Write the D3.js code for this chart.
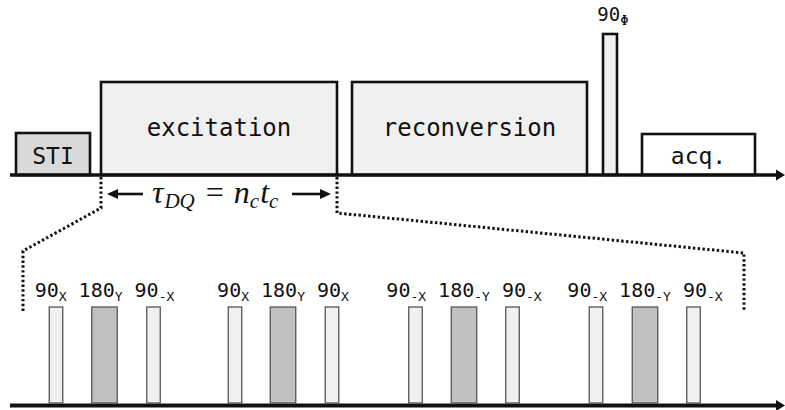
<!DOCTYPE html>
<html lang="en">
<head>
  <meta charset="UTF-8">
  <title>DQ pulse sequence</title>
  <script src="https://d3js.org/d3.v7.min.js"></script>
  <style>
    body { margin: 0; background: #fff; }
    svg { display: block; }
    .mono { font-family: "DejaVu Sans Mono", "Liberation Mono", monospace; fill: #111; }
    .math { font-family: "Liberation Serif", "DejaVu Serif", serif; font-style: italic; fill: #111; }
  </style>
</head>
<body>
  <svg width="785" height="410"></svg>

  <script>
  // top row: blocks of the sequence (start, end, amplitude in arbitrary time / power units)
  const blockLabels = ["STI", "excitation", "reconversion", "90", "acq."];
  const blockSub    = ["", "", "", "\u03A6", ""];
  const blockKind   = ["sti", "block", "block", "pulse", "acq"];
  const blockStart  = [16, 101, 352, 603, 642];
  const blockEnd    = [90, 337, 587, 617, 755];
  const blockAmp    = [42, 93, 93, 141, 41];

  // bottom row: one zoomed excitation period, 4 cycles of 90-180-90
  const pulseAngle  = [90, 180, 90, 90, 180, 90, 90, 180, 90, 90, 180, 90];
  const pulsePhase  = ["X", "Y", "-X", "X", "Y", "X", "-X", "-Y", "-X", "-X", "-Y", "-X"];
  const pulseCenter = [56, 104.5, 153.5, 235, 283, 332, 415.5, 464, 512.5, 596, 645, 693.5];
  const pulseLength = { 90: 13.5, 180: 25.5 };
  const pulseAmp = 96;
  const zoomWindow = [23, 744]; // where the excitation period is expanded to

  const svg = d3.select("svg");
  const x = d3.scaleLinear().domain([0, 785]).range([0, 785]);
  const yTop = d3.scaleLinear().domain([0, 141]).range([175, 34]);
  const yBot = d3.scaleLinear().domain([0, pulseAmp]).range([403, 307]);

  const fills = { sti: "#d9d9d9", block: "#f0f0f0", pulse: "#f0f0f0", acq: "#ffffff" };

  // ---- dotted zoom guides (drawn first so boxes sit on top)
  const guide = d3.line();
  const dotted = (pts) => svg.append("path")
    .attr("d", guide(pts))
    .attr("fill", "none")
    .attr("stroke", "#111")
    .attr("stroke-width", 3)
    .attr("stroke-dasharray", "2.4,2.4");

  dotted([[x(blockStart[1]), 177], [x(blockStart[1]), 208], [x(zoomWindow[0]), 251], [x(zoomWindow[0]), 312]]);
  dotted([[x(blockEnd[1]), 177], [x(blockEnd[1]), 213], [x(zoomWindow[1]), 253], [x(zoomWindow[1]), 312]]);

  // ---- top blocks
  const gTop = svg.append("g");
  blockLabels.forEach((lab, i) => {
    gTop.append("rect")
      .attr("x", x(blockStart[i]))
      .attr("y", yTop(blockAmp[i]))
      .attr("width", x(blockEnd[i]) - x(blockStart[i]))
      .attr("height", yTop(0) - yTop(blockAmp[i]))
      .attr("fill", fills[blockKind[i]])
      .attr("stroke", "#111")
      .attr("stroke-width", 2.6);

    const cx = (x(blockStart[i]) + x(blockEnd[i])) / 2;
    if (blockKind[i] === "pulse") {
      const t = gTop.append("text").attr("class", "mono")
        .attr("x", cx + 3).attr("y", yTop(blockAmp[i]) - 13)
        .attr("text-anchor", "middle").attr("font-size", 19);
      t.append("tspan").text(lab);
      t.append("tspan").attr("dy", 4).attr("font-size", 14).text(blockSub[i]);
    } else {
      const big = blockKind[i] === "block";
      gTop.append("text").attr("class", "mono")
        .attr("x", cx)
        .attr("y", big ? 136 : 164)
        .attr("text-anchor", "middle")
        .attr("font-size", big ? 24 : 23)
        .text(lab);
    }
  });

  // ---- axes (time lines with arrowheads)
  function timeLine(y, w) {
    svg.append("line")
      .attr("x1", 10).attr("x2", 776)
      .attr("y1", y).attr("y2", y)
      .attr("stroke", "#111").attr("stroke-width", w);
    svg.append("path")
      .attr("d", `M776,${y - 5.5} L785,${y} L776,${y + 5.5} Z`)
      .attr("fill", "#111");
  }
  timeLine(175, 3.4);
  timeLine(405.5, 4);

  // ---- tau_DQ annotation
  const ay = 194;
  const arrow = (x1, x2) => {
    const dir = Math.sign(x2 - x1);
    svg.append("line").attr("x1", x1).attr("x2", x2 - dir * 8).attr("y1", ay).attr("y2", ay)
      .attr("stroke", "#111").attr("stroke-width", 2.6);
    svg.append("path")
      .attr("d", `M${x2 - dir * 11},${ay - 5} L${x2},${ay} L${x2 - dir * 11},${ay + 5} Z`)
      .attr("fill", "#111");
  };
  arrow(143, x(blockStart[1]) + 6);
  arrow(292, x(blockEnd[1]) - 6);

  const f = svg.append("text").attr("class", "math")
    .attr("x", 152)
    .attr("y", 203)
    .attr("font-size", 32);
  f.append("tspan").text("\u03C4");
  f.append("tspan").attr("dx", 1).attr("dy", 5).attr("font-size", 21).text("DQ");
  f.append("tspan").attr("dx", 11).attr("dy", -5).attr("font-style", "normal").text("=");
  f.append("tspan").attr("dx", 10).text("n");
  f.append("tspan").attr("dy", 5).attr("font-size", 21).text("c");
  f.append("tspan").attr("dx", 1).attr("dy", -5).text("t");
  f.append("tspan").attr("dy", 5).attr("font-size", 21).text("c");

  // ---- bottom pulses
  const gBot = svg.append("g");
  pulseAngle.forEach((a, i) => {
    const w = pulseLength[a];
    gBot.append("rect")
      .attr("x", x(pulseCenter[i] - w / 2))
      .attr("y", yBot(pulseAmp))
      .attr("width", x(w) - x(0))
      .attr("height", yBot(0) - yBot(pulseAmp))
      .attr("fill", a === 180 ? "#c0c0c0" : "#f0f0f0")
      .attr("stroke", "#555")
      .attr("stroke-width", 1.3);
  });

  // labels: one row per 90-180-90 cycle, centred on its 180 pulse
  d3.range(0, pulseAngle.length, 3).forEach(k => {
    const t = gBot.append("text").attr("class", "mono")
      .attr("x", x(pulseCenter[k + 1]))
      .attr("y", 297)
      .attr("text-anchor", "middle")
      .attr("font-size", 20);
    [k, k + 1, k + 2].forEach((i, j) => {
      t.append("tspan").attr("dx", j ? 12 : 0).attr("dy", j ? -4 : 0).text(pulseAngle[i]);
      t.append("tspan").attr("dy", 4).attr("font-size", 13).text(pulsePhase[i]);
    });
  });
  </script>
</body>
</html>
